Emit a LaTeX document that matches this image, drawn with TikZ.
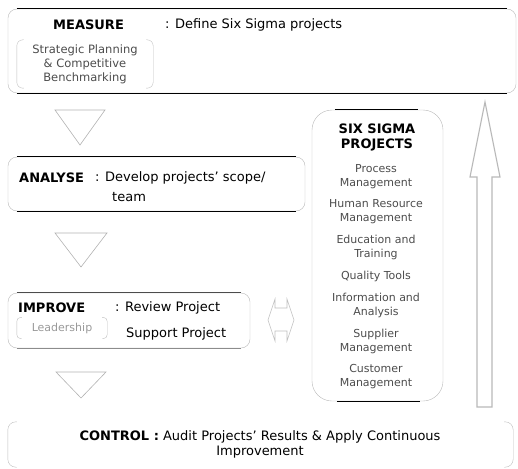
\documentclass[tikz,border=0pt]{standalone}
\usepackage{fontspec}
\setmainfont{DejaVu Sans}
\usetikzlibrary{positioning}
\tikzset{
	phasebox/.style = {
		rectangle,
		rounded corners=9pt,
		draw=gray!55,
		inner sep=0pt
	},
	openbox/.style = {
		rectangle,
		inner sep=0pt
	},
	bracketline/.style = {
		draw=gray!50,
		rounded corners=#1
	},
	bracketline/.default = 6pt,
	ruleline/.style = {
		draw=black,
		line width=0.8pt
	},
	headtext/.style = {
		font=\fontsize{13}{15}\selectfont\bfseries,
		inner sep=0pt,
		anchor=west
	},
	phasetext/.style = {
		font=\fontsize{13}{15}\selectfont,
		inner sep=0pt,
		anchor=west
	},
	itemtext/.style = {
		font=\fontsize{11}{14}\selectfont,
		text=black!70,
		align=center,
		inner sep=0pt
	},
	flowtri/.style = {
		draw=gray!60,
		line width=0.6pt
	},
	bigarrow/.style = {
		draw=gray!55,
		line width=1.1pt,
		line join=miter
	}
}

\begin{document}
\begin{tikzpicture}[x=1pt,y=-1pt]
\useasboundingbox (0,0) rectangle (518,468);

% phase boxes
\node [phasebox, minimum width=508, minimum height=84] (measure) at (262,51) {};
\node [phasebox, minimum width=297, minimum height=54] (analyse) at (156.5,184) {};
\node [phasebox, minimum width=242, minimum height=55] (improve) at (129,320.5) {};
\node [openbox, minimum width=505, minimum height=45] (control) at (260.5,444.5) {};
\node [phasebox, rounded corners=20pt, minimum width=131, minimum height=291] (projects) at (377.5,255.5) {};

\draw [ruleline] ([xshift=9]measure.north west) -- ([xshift=-9]measure.north east);
\draw [ruleline] ([xshift=9]measure.south west) -- ([xshift=-9]measure.south east);
\draw [ruleline] ([xshift=9]analyse.north west) -- ([xshift=-9]analyse.north east);
\draw [ruleline] ([xshift=9]analyse.south west) -- ([xshift=-9]analyse.south east);
\draw [ruleline, draw=black!70] ([xshift=9]improve.north west) -- ([xshift=-9]improve.north east);
\draw [ruleline, draw=black!45] ([xshift=9]improve.south west) -- ([xshift=-9]improve.south east);
\draw [ruleline] ([xshift=23]projects.north west) -- ([xshift=-25]projects.north east);
\draw [ruleline] ([xshift=25]projects.south west) -- ([xshift=-23]projects.south east);
\draw [bracketline=8pt] ([xshift=9]control.north west) -- (control.north west) -- (control.south west) -- ([xshift=9]control.south west);
\draw [bracketline=8pt] ([xshift=-9]control.north east) -- (control.north east) -- (control.south east) -- ([xshift=-9]control.south east);

% measure
\node [headtext] (measureT) at (53,25) {MEASURE};
\node [phasetext] (measureD) at (165,25) {: Define Six Sigma projects};
\node [openbox, minimum width=136, minimum height=48] (strategic) at (85,64) {};
\draw [bracketline] ([xshift=7]strategic.north west) -- (strategic.north west) -- (strategic.south west) -- ([xshift=7]strategic.south west);
\draw [bracketline] ([xshift=-7]strategic.north east) -- (strategic.north east) -- (strategic.south east) -- ([xshift=-7]strategic.south east);
\node [itemtext, font=\fontsize{11.5}{14}\selectfont] (strategicT) at (strategic) {Strategic Planning\\\& Competitive\\Benchmarking};

% analyse
\node [headtext] (analyseT) at (19,178) {ANALYSE};
\node [phasetext] (analyseD) at (95,178) {: Develop projects' scope/};
\node [phasetext] (analyseD2) at (112,197) {team};

% improve
\node [headtext] (improveT) at (18,308) {IMPROVE};
\node [phasetext] (improveD) at (115,308) {: Review Project};
\node [openbox, minimum width=90, minimum height=21] (leader) at (62,328) {};
\draw [bracketline=4pt] ([xshift=5]leader.north west) -- (leader.north west) -- (leader.south west) -- ([xshift=5]leader.south west);
\draw [bracketline=4pt] ([xshift=-5]leader.north east) -- (leader.north east) -- (leader.south east) -- ([xshift=-5]leader.south east);
\node [itemtext, font=\fontsize{11}{13}\selectfont, text=black!40] (leaderT) at (leader) {Leadership};
\node [phasetext] (improveD2) at (126,334) {Support Project};

% control
\node [align=center, inner sep=0pt, font=\fontsize{13}{15}\selectfont] (controlT) at (260,444) {\textbf{CONTROL :} Audit Projects' Results \& Apply Continuous\\Improvement};

% six sigma projects
\node [itemtext, font=\fontsize{13}{15}\selectfont\bfseries, text=black] (projectsT) at (377,137) {SIX SIGMA\\PROJECTS};
\node [itemtext] (p1) at (376,177) {Process\\Management};
\node [itemtext] (p2) at (376,212) {Human Resource\\Management};
\node [itemtext] (p3) at (376,247) {Education and\\Training};
\node [itemtext] (p4) at (376,276) {Quality Tools};
\node [itemtext] (p5) at (376,305) {Information and\\Analysis};
\node [itemtext] (p6) at (376,341) {Supplier\\Management};
\node [itemtext] (p7) at (376,377) {Customer\\Management};

% flow triangles
\draw [flowtri] (55,110) -- (105,110) -- (80,145) -- cycle;
\draw [flowtri] (55,233) -- (107,233) -- (81,267) -- cycle;
\draw [flowtri] (56,372) -- (106,372) -- (81,398) -- cycle;

% link between improve and projects
\draw [flowtri, draw=gray!50] (268,320) -- (275,299) -- (275,308) -- (287,308) -- (287,299) -- (294,320)
	-- (287,341) -- (287,331) -- (275,331) -- (275,341) -- cycle;

% upward arrow
\draw [bigarrow] (477,407) -- (477,177) -- (470,177) -- (485,102) -- (500,177) -- (492,177) -- (492,407) -- cycle;
\end{tikzpicture}
\end{document}
